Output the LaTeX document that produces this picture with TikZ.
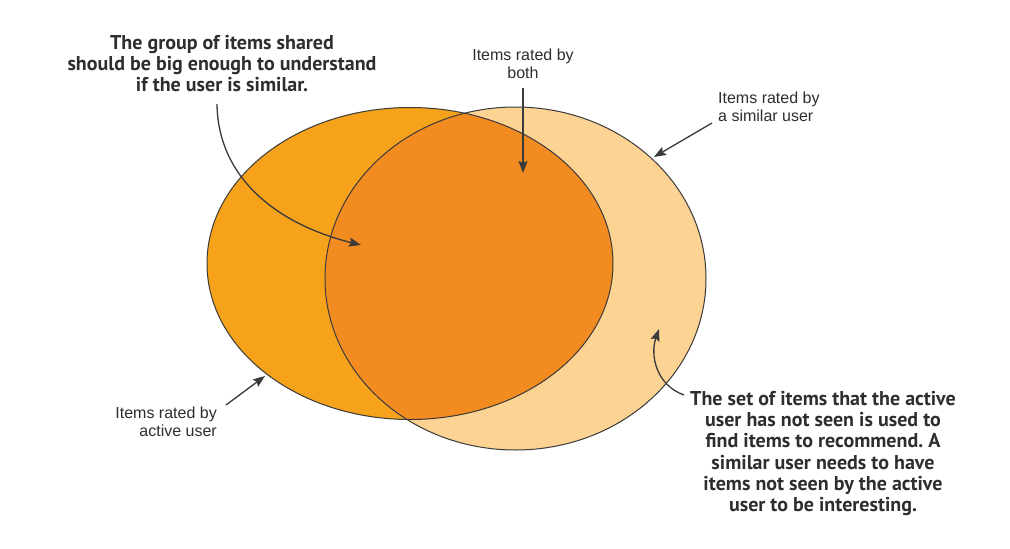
\documentclass[tikz,border=0pt]{standalone}
\usepackage{fontspec}
\setmainfont{Liberation Sans}
\newfontfamily\condbold{PT Sans}
\usetikzlibrary{arrows.meta}
\definecolor{activeC}{HTML}{F7A21B}
\definecolor{bothC}{HTML}{F28B20}
\definecolor{similarC}{HTML}{FDD394}
\definecolor{lineC}{HTML}{3A3A3A}
\definecolor{textC}{HTML}{2E2E2E}
\frenchspacing
\tikzset{
  outline/.style={draw=lineC, line width=1pt},
  arr/.style={draw=lineC, line width=1.3pt, -{Stealth[length=12pt,width=9pt,inset=2pt]}},
  note/.style={font=\fontsize{16}{18.5}\selectfont, text=textC, inner sep=0pt},
  boldnote/.style={font=\condbold\bfseries\fontsize{20}{21.3}\selectfont, text=textC, inner sep=0pt, align=center},
}
\begin{document}
\begin{tikzpicture}[x=1pt,y=-1pt]
\useasboundingbox (0,0) rectangle (1010,549);
\fill[white] (0,0) rectangle (1010,549);
% ellipses
\fill[activeC] (410,263.5) ellipse [x radius=203, y radius=156];
\fill[similarC] (515.5,278.5) ellipse [x radius=190.5, y radius=171.5];
\begin{scope}
  \clip (410,263.5) ellipse [x radius=203, y radius=156];
  \fill[bothC] (515.5,278.5) ellipse [x radius=190.5, y radius=171.5];
\end{scope}
\draw[outline] (410,263.5) ellipse [x radius=203, y radius=156];
\draw[outline] (515.5,278.5) ellipse [x radius=190.5, y radius=171.5];

% texts
\node[boldnote] (shared) at (222,63.5) {The group of items shared\\should be big enough to understand\\if the user is similar.};
\node[note, align=center] (both) at (523,64) {Items rated by\\both};
\node[note, align=left, anchor=west] (similar) at (718,107) {Items rated by\\a similar user};
\node[note, align=right, anchor=east] (active) at (217,422) {Items rated by\\active user};
\node[boldnote] (unseen) at (823,453.5) {The set of items that the active\\user has not seen is used to\\find items to recommend. A\\similar user needs to have\\items not seen by the active\\user to be interesting.};

% arrow endpoints
\coordinate (s1) at (217,104);
\coordinate (t1) at (361,245);
\coordinate (s2) at (523,88);
\coordinate (t2) at (523,173);
\coordinate (s3) at (712,123);
\coordinate (t3) at (654,157);
\coordinate (s4) at (226,405);
\coordinate (t4) at (265,376);
\coordinate (s5) at (684,395);
\coordinate (t5) at (659,329);

\draw[arr] (s1) .. controls (218,180) and (280,225) .. (t1);
\draw[arr] (s2) -- (t2);
\draw[arr] (s3) -- (t3);
\draw[arr] (s4) -- (t4);
\draw[arr] (s5) .. controls (656,385) and (650,355) .. (t5);
\end{tikzpicture}
\end{document}
